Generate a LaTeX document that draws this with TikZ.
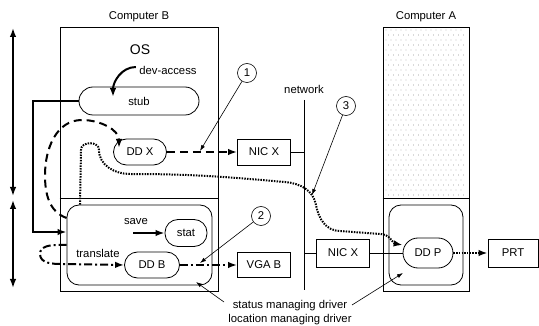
\documentclass[tikz,border=0pt]{standalone}
\usepackage{fontspec}
\setmainfont{Liberation Sans}
\usetikzlibrary{arrows.meta}
\begin{document}
\begin{tikzpicture}[x=1pt, y=-1pt, font=\fontsize{11.3}{14}\selectfont]
\tikzstyle{computer} = [draw, line width=0.8pt, inner sep=0pt]
\tikzstyle{pill} = [draw, line width=0.8pt, inner sep=0pt, rounded corners=13pt, minimum height=26pt]
\tikzstyle{device} = [draw, line width=0.8pt, inner sep=0pt, minimum width=53pt, minimum height=26pt]
\tikzstyle{driver} = [draw, line width=0.8pt, inner sep=0pt, rounded corners=12pt, minimum height=80pt]
\tikzstyle{callout} = [draw, circle, line width=0.6pt, minimum size=19pt, inner sep=0pt]
\tikzstyle{pointer} = [line width=0.6pt, -{Latex[length=6pt,width=4pt]}]
\tikzstyle{heavy} = [line width=2pt, -{Latex[length=9pt,width=6.5pt]}]
\tikzstyle{level} = [line width=1.6pt, {Latex[length=9pt,width=6.5pt]}-{Latex[length=9pt,width=6.5pt]}]
\tikzstyle{dashflow} = [heavy, dash pattern=on 8pt off 5pt]
\tikzstyle{dotflow} = [heavy, dash pattern=on 1.5pt off 1.2pt]
\tikzstyle{dashdotflow} = [heavy, dash pattern=on 8pt off 3pt on 2pt off 3pt]
\useasboundingbox (0,0) rectangle (539,326);

\foreach \i in {0,...,15}
  \foreach \j in {0,...,33}
    \fill[black!65] ({386+5*\i+2.5*mod(\j,2)}, {30+5*\j}) circle (0.45pt);

\node[computer, minimum width=158pt, minimum height=264pt] (compB) at (139,159) {};
\node[computer, minimum width=86pt, minimum height=264pt] (compA) at (426,159) {};
\node (labB) at (139,17) {Computer B};
\node (labA) at (426,17) {Computer A};
\draw[line width=0.8pt] (compB.west |- 0,198) -- (compB.east |- 0,198);
\draw[line width=0.8pt] (compA.west |- 0,198) -- (compA.east |- 0,198);

\node[font=\fontsize{14}{14}\selectfont] (os) at (140,50) {OS};
\node (devacc) at (168,70) {dev-access};
\node[pill, minimum width=120pt, minimum height=28pt, rounded corners=14pt] (stub) at (139,101) {stub};
\node[pill, minimum width=53pt] (ddx) at (140,152) {DD X};
\node[device] (nicxB) at (264,152) {NIC X};
\node (net) at (304,89) {network};
\coordinate (nettop) at (304,100);
\coordinate (netbot) at (304,290);

\node[driver, minimum width=145pt] (drvB) at (139.5,245) {};
\node (save) at (136,222) {save};
\node[pill, minimum width=42pt, minimum height=27pt] (stat) at (186,233) {stat};
\node (transl) at (98,253) {translate};
\node[pill, minimum width=55pt] (ddb) at (152,265) {DD B};
\node[device, minimum height=25pt] (vgab) at (264,265) {VGA B};

\node[device, minimum height=28pt] (nicxA) at (343,253) {NIC X};
\node[driver, minimum width=74pt] (drvA) at (426,245) {};
\node[pill, minimum width=50pt, minimum height=30pt, rounded corners=15pt] (ddp) at (428,253) {DD P};
\node[device, minimum width=50pt, minimum height=28pt] (prt) at (513,253) {PRT};

\node[callout] (c1) at (247,73) {1};
\node[callout] (c2) at (261,216) {2};
\node[callout] (c3) at (346,106) {3};
\node[align=center] (note) at (290,313) {status managing driver\\location managing driver};

\coordinate (devtip) at (113,97);
\coordinate (bend) at (33,232);
\coordinate (p1) at (200,151);
\coordinate (p2) at (200,263);
\coordinate (p3) at (312,195);
\coordinate (n1) at (224,302);
\coordinate (q1) at (196,282);
\coordinate (n2) at (352,305);
\coordinate (q2) at (403,273);
\coordinate (lt1) at (13,28);
\coordinate (lb1) at (13,196);
\coordinate (lt2) at (13,200);
\coordinate (lb2) at (13,288);

\draw[level] (lt1) -- (lb1);
\draw[level] (lt2) -- (lb2);

\draw[heavy] ([yshift=3pt]devacc.west) to[out=180, in=90] (devtip);
\draw[heavy] (stub.west) -| (bend) -- (bend -| drvB.west);
\draw[heavy] (save.east |- stat) ++(-18pt,0) -- (stat.west);

\draw[dashflow] (drvB.west |- 0,218) to[out=160, in=270] (45,175) to[out=90, in=180] (82,120) to[out=0, in=90] (119,148);
\draw[dashflow] (ddx.east) -- (nicxB.west);

\draw[dotflow] (drvB.north -| 80,0) -- (81,150) to[out=90, in=90, looseness=1.3] (99,150) to[out=270, in=180] (130,174)
  to[out=0, in=175] (285,182) to[out=-5, in=100] (316,205) to[out=280, in=180] (340,231) -- (380,234)
  to[out=0, in=170] ([yshift=8pt]ddp.west);
\draw[dotflow] (ddp.east) -- (prt.west);

\draw[dashdotflow] (drvB.west) -- (58,245) to[out=180, in=90] (40,254) to[out=270, in=180] (62,264) -- (ddb.west);
\draw[dashdotflow] (ddb.east) -- (vgab.west);

\draw[line width=0.8pt] (nettop) -- (netbot);
\draw[line width=0.8pt] (nicxB.east) -- (nicxB.east -| nettop);
\draw[line width=0.8pt] (nicxA.west -| nettop) -- (nicxA.west);
\draw[line width=0.8pt] (nicxA.east) -- (ddp.west);

\draw[pointer] (c1) -- (p1);
\draw[pointer] (c2) -- (p2);
\draw[pointer] (c3) -- (p3);
\draw[pointer] (n1) -- (q1);
\draw[pointer] (n2) -- (q2);
\end{tikzpicture}
\end{document}
